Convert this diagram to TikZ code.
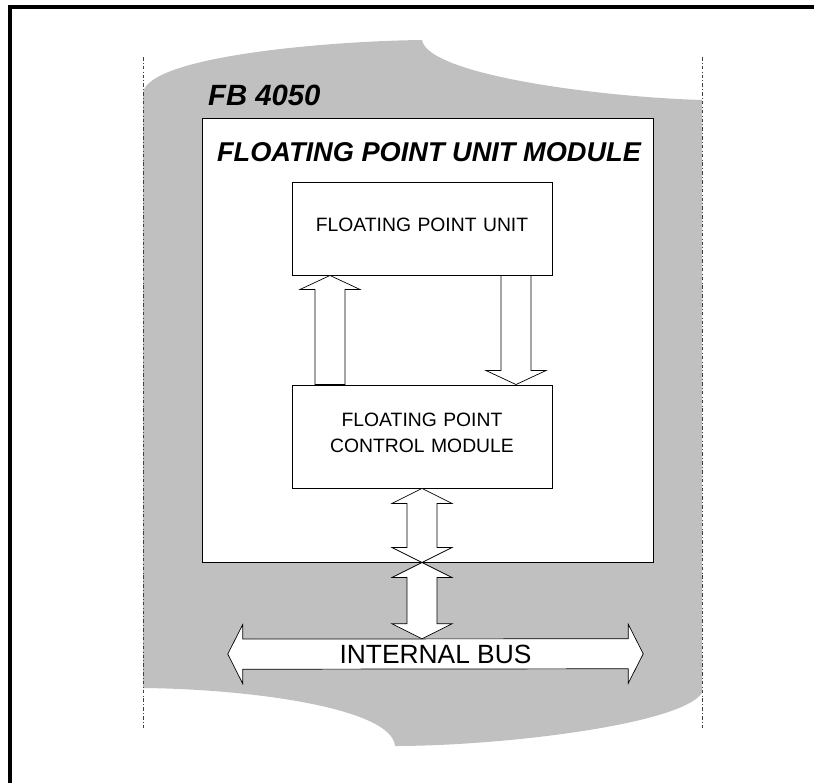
\documentclass[tikz,border=0pt]{standalone}
\usepackage{fontspec}
\setmainfont{Liberation Sans}
\usetikzlibrary{calc}
\definecolor{fbGray}{HTML}{C0C0C0}
\tikzset{
  unitbox/.style={draw=black, line width=0.8pt, fill=white, align=center, font=\fontsize{16.5}{22}\selectfont, text width=7.4cm, minimum width=7.8cm},
  modbox/.style={draw=black, line width=0.8pt, fill=white, minimum width=13.53cm, minimum height=13.32cm, inner sep=0pt},
  titletext/.style={font=\fontsize{23.2}{26}\selectfont\bfseries\itshape, inner sep=0pt},
  busshaft/.style={minimum width=11.55cm, minimum height=0.9cm, inner sep=0pt},
  blockarr/.style={draw=black, line width=0.6pt, fill=white, line join=miter},
  guideline/.style={draw=black!75, line width=0.5pt, dash dot},
  frameline/.style={draw=black, line width=3.4pt},
}

\begin{document}
\begin{tikzpicture}[x=0.03cm, y=-0.03cm]
\useasboundingbox (0,0) rectangle (814,782);
% Outer frame
\draw[frameline] (10,7) rectangle (840,810);

% FB 4050 board
\fill[fbGray] (143,93) .. controls (148,56) and (330,41) .. (422,40)
  .. controls (428,75) and (600,97) .. (702,100) -- (702,693)
  .. controls (680,725) and (500,746) .. (395,746)
  .. controls (392,708) and (250,689) .. (143,688) -- cycle;
\draw[guideline] (143,57) -- (143,730);
\draw[guideline] (702,57) -- (702,730);
\node[titletext, font=\fontsize{25}{28}\selectfont\bfseries\itshape, anchor=west] (fbname) at (208,95) {FB 4050};

% Floating point unit module
\node[modbox] (fpum) at (427.5,340) {};
\node[titletext] (fpumtitle) at (429,152) {FLOATING POINT UNIT MODULE};
\node[unitbox, minimum height=2.79cm] (fpu) at (422,228.5) {FLOATING POINT UNIT\\[-15pt]\mbox{}};
\node[unitbox, minimum height=3.09cm] (fpcm) at (422,436.5) {FLOATING POINT\\CONTROL MODULE\\[-15pt]\mbox{}};

\coordinate (upx) at (330,0);
\coordinate (downx) at (516,0);
\coordinate (midx) at (422,0);

% Block arrows
\draw[blockarr] (fpu.south -| upx) -- ++(30,14) -- ++(-15,0) -- ($(fpcm.north -| upx)+(15,0)$)
  -- ++(-30,0) -- ($(fpu.south -| upx)+(-15,14)$) -- ++(-15,0) -- cycle;
\draw[blockarr] (fpcm.north -| downx) -- ++(30,-14) -- ++(-15,0) -- ($(fpu.south -| downx)+(15,0)$)
  -- ++(-30,0) -- ($(fpcm.north -| downx)+(-15,-14)$) -- ++(-15,0) -- cycle;
\draw[blockarr] (fpcm.south) -- ++(30,15) -- ++(-15,0) -- ($(fpum.south -| midx)+(15,-15)$) -- ++(15,0)
  -- (fpum.south -| midx) -- ++(-30,-15) -- ++(15,0) -- ($(fpcm.south)+(-15,15)$) -- ++(-15,0) -- cycle;

% Internal bus
\path node[busshaft] (bus) at (435.5,654) {};
\draw[blockarr] ($(bus.west)+(-15,0)$) -- ++(15,-29.5) -- ++(0,14.5) -- (bus.north east) -- ++(0,-14.5)
  -- ++(15,29.5) -- ++(-15,29.5) -- ++(0,-14.5) -- (bus.south west) -- ++(0,14.5) -- cycle;
\node[font=\fontsize{22.5}{26}\selectfont, inner sep=0pt] (bustext) at (bus) {INTERNAL BUS};
\draw[blockarr] (fpum.south -| midx) -- ++(30,15) -- ++(-15,0) -- ($(bus.north -| midx)+(15,-15)$) -- ++(15,0)
  -- (bus.north -| midx) -- ++(-30,-15) -- ++(15,0) -- ($(fpum.south -| midx)+(-15,15)$) -- ++(-15,0) -- cycle;
\end{tikzpicture}
\end{document}
